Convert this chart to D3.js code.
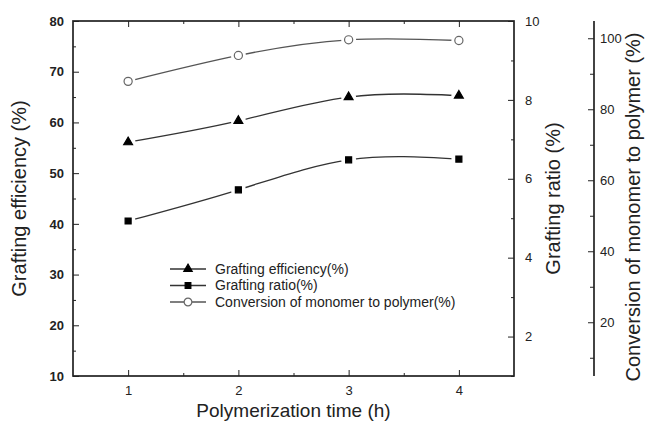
<!DOCTYPE html>
<html>
<head>
<meta charset="utf-8">
<script src="https://cdn.jsdelivr.net/npm/d3@7"></script>
<style>
  body { margin: 0; background: #fff; }
  svg { display: block; }
</style>
</head>
<body>
<script>
// polymerization time (h)
const times = [1, 2, 3, 4]
const efficiency = [56.1, 60.3, 65.0, 65.3]   // left axis, %
const ratio = [4.93, 5.72, 6.48, 6.50]          // right axis, %
const conversion = [88.0, 95.3, 99.7, 99.5]     // third axis, %

const xTicks = [1, 2, 3, 4]
const leftTicks = [10, 20, 30, 40, 50, 60, 70, 80]
const rightTicks = [2, 4, 6, 8, 10]
const convTicks = [20, 40, 60, 80, 100]

const width = 650, height = 425
const plotL = 73, plotR = 514, plotT = 21, plotB = 376
const axis3 = 594

const svg = d3.select("body").append("svg")
    .attr("width", width)
    .attr("height", height)
    .style("font-family", "'Liberation Sans', Arial, sans-serif")

const x = d3.scaleLinear().domain([0.5, 4.5]).range([plotL, plotR])
const yL = d3.scaleLinear().domain([10, 80]).range([plotB, plotT])
const yR = d3.scaleLinear().domain([1, 10]).range([plotB, plotT])
const yC = d3.scaleLinear().domain([5, 105]).range([plotB, plotT])

const ink = "#222"

// bottom axis (ticks inward)
svg.append("g")
    .attr("transform", `translate(0,${plotB})`)
    .call(d3.axisBottom(x).tickValues(xTicks).tickSize(-6).tickPadding(9).tickFormat(d3.format("d")))
    .call(g => g.select(".domain").remove())
    .call(g => g.selectAll("text").attr("font-size", 13).attr("fill", ink).attr("dy", "0.8em"))
svg.append("g")
    .attr("transform", `translate(0,${plotB})`)
    .call(d3.axisBottom(x).tickValues([1.5, 2.5, 3.5]).tickSize(-3).tickFormat(""))
    .call(g => g.select(".domain").remove())

// top axis ticks
svg.append("g")
    .attr("transform", `translate(0,${plotT})`)
    .call(d3.axisTop(x).tickValues(xTicks).tickSize(-6).tickFormat(""))
    .call(g => g.select(".domain").remove())
svg.append("g")
    .attr("transform", `translate(0,${plotT})`)
    .call(d3.axisTop(x).tickValues([1.5, 2.5, 3.5]).tickSize(-3).tickFormat(""))
    .call(g => g.select(".domain").remove())

// left axis (ticks inward)
svg.append("g")
    .attr("transform", `translate(${plotL},0)`)
    .call(d3.axisLeft(yL).tickValues(leftTicks).tickSize(-6).tickPadding(9))
    .call(g => g.select(".domain").remove())
    .call(g => g.selectAll("text").attr("font-size", 13).attr("font-weight", "bold").attr("fill", ink))
svg.append("g")
    .attr("transform", `translate(${plotL},0)`)
    .call(d3.axisLeft(yL).tickValues([15, 25, 35, 45, 55, 65, 75]).tickSize(-3).tickFormat(""))
    .call(g => g.select(".domain").remove())

// right axis (grafting ratio, ticks inward)
svg.append("g")
    .attr("transform", `translate(${plotR},0)`)
    .call(d3.axisRight(yR).tickValues(rightTicks).tickSize(-6).tickPadding(11))
    .call(g => g.select(".domain").remove())
    .call(g => g.selectAll("text").attr("font-size", 13).attr("fill", ink))
svg.append("g")
    .attr("transform", `translate(${plotR},0)`)
    .call(d3.axisRight(yR).tickValues([1, 3, 5, 7, 9]).tickSize(-3).tickFormat(""))
    .call(g => g.select(".domain").remove())

// frame
svg.append("rect")
    .attr("x", plotL).attr("y", plotT)
    .attr("width", plotR - plotL).attr("height", plotB - plotT)
    .attr("fill", "none").attr("stroke", ink).attr("stroke-width", 1.7)

// third axis (conversion)
const a3 = svg.append("g").attr("transform", `translate(${axis3},0)`)
a3.call(d3.axisRight(yC).tickValues(convTicks).tickSize(0).tickPadding(6))
    .call(g => g.select(".domain").remove())
    .call(g => g.selectAll("text").attr("font-size", 13).attr("fill", ink))
a3.append("line")
    .attr("y1", yC(105)).attr("y2", yC(5))
    .attr("stroke", ink).attr("stroke-width", 1.7)
a3.selectAll(".maj").data(convTicks).join("line")
    .attr("x1", -6).attr("x2", 0)
    .attr("y1", d => yC(d)).attr("y2", d => yC(d))
    .attr("stroke", ink)
a3.selectAll(".min").data([10, 30, 50, 70, 90]).join("line")
    .attr("x1", -4).attr("x2", 0)
    .attr("y1", d => yC(d)).attr("y2", d => yC(d))
    .attr("stroke", ink)

svg.selectAll(".tick line").attr("stroke", ink)

// titles
svg.append("text")
    .attr("transform", `translate(${x(2.5)},417)`)
    .attr("text-anchor", "middle").attr("font-size", 19).attr("fill", ink)
    .text("Polymerization time (h)")
svg.append("text")
    .attr("transform", `translate(26,${(plotT + plotB) / 2}) rotate(-90)`)
    .attr("text-anchor", "middle").attr("font-size", 20).attr("fill", ink)
    .text("Grafting efficiency (%)")
svg.append("text")
    .attr("transform", `translate(560,${(plotT + plotB) / 2}) rotate(-90)`)
    .attr("text-anchor", "middle").attr("font-size", 20).attr("fill", ink)
    .text("Grafting ratio (%)")
svg.append("text")
    .attr("transform", `translate(640,207) rotate(-90)`)
    .attr("text-anchor", "middle").attr("font-size", 20).attr("fill", ink)
    .text("Conversion of monomer to polymer (%)")

// series
const series = [
    { name: "Grafting efficiency(%)", values: efficiency, y: yL, sym: d3.symbolTriangle, size: 34, fill: "#000", stroke: "#000", line: "#333" },
    { name: "Grafting ratio(%)", values: ratio, y: yR, sym: d3.symbolSquare, size: 36, fill: "#000", stroke: "#000", line: "#333" },
    { name: "Conversion of monomer to polymer(%)", values: conversion, y: yC, sym: d3.symbolCircle, size: 52, fill: "#fff", stroke: "#666", line: "#555" }
]

const plot = svg.append("g")
series.forEach(s => {
    const pts = times.map((t, i) => [x(t), s.y(s.values[i])])
    plot.append("path")
        .attr("d", d3.line().curve(d3.curveNatural)(pts))
        .attr("fill", "none").attr("stroke", s.line).attr("stroke-width", 1.3)
})
series.forEach(s => {
    const pts = times.map((t, i) => [x(t), s.y(s.values[i])])
    plot.selectAll(null).data(pts).join("circle")
        .attr("cx", d => d[0]).attr("cy", d => d[1]).attr("r", 7.5)
        .attr("fill", "#fff")
    plot.selectAll(null).data(pts).join("path")
        .attr("transform", d => `translate(${d[0]},${d[1]})`)
        .attr("d", d3.symbol(s.sym, s.size))
        .attr("fill", s.fill).attr("stroke", s.stroke).attr("stroke-width", 1.2)
})

// legend
const legend = svg.append("g").attr("transform", "translate(170,269)")
series.forEach((s, i) => {
    const row = legend.append("g").attr("transform", `translate(0,${i * 16.5})`)
    row.append("line").attr("x1", 0).attr("x2", 36)
        .attr("stroke", s.line).attr("stroke-width", 1.3)
    row.append("path").attr("transform", "translate(18,0)")
        .attr("d", d3.symbol(s.sym, s.size * 0.9))
        .attr("fill", s.fill).attr("stroke", s.stroke).attr("stroke-width", 1.2)
    row.append("text").attr("x", 45).attr("y", 0).attr("dy", "0.35em")
        .attr("font-size", 14).attr("fill", ink)
        .text(s.name)
})
</script>
</body>
</html>
